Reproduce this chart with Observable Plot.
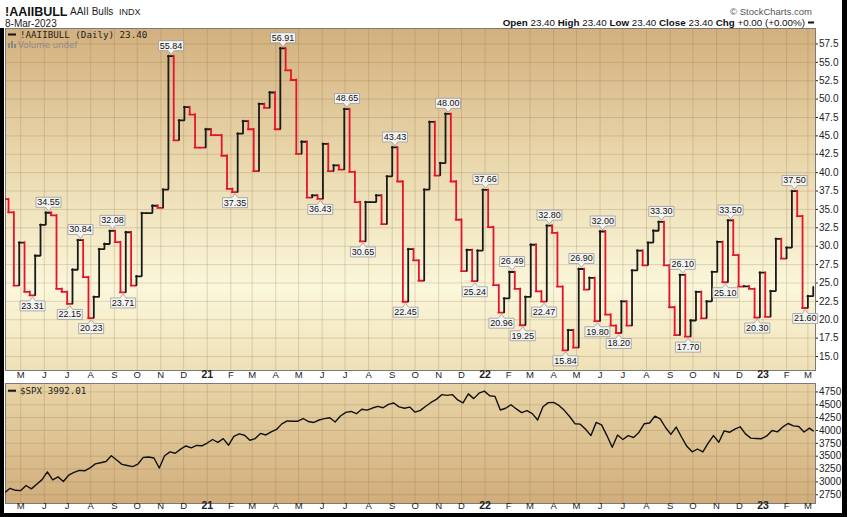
<!DOCTYPE html>
<html><head><meta charset="utf-8">
<script src="https://cdn.jsdelivr.net/npm/d3@7"></script>
<script src="https://cdn.jsdelivr.net/npm/@observablehq/plot@0.6"></script>
<style>
html,body{margin:0;padding:0;background:#fff;}
#root{position:relative;width:847px;height:517px;overflow:hidden;font-family:"Liberation Sans",Arial,sans-serif;}
.abs{position:absolute;}
#bgTop{left:5px;top:28px;width:810px;height:342px;background:linear-gradient(to bottom,#d3b07e 0%,#e9d7ab 38%,#fbf7db 76%,#efe0b5 100%);}
#bgBot{left:5px;top:383px;width:810px;height:120px;background:linear-gradient(to bottom,#e8d4a6 0%,#dcc090 55%,#d1ad7b 100%);}
#topChart,#botChart{left:0;}
#topChart{top:28px;} #botChart{top:383px;}
#overlay{left:0;top:0;pointer-events:none;}
</style></head>
<body><div id="root">
<div id="bgTop" class="abs"></div>
<div id="bgBot" class="abs"></div>
<div id="topChart" class="abs"></div>
<div id="botChart" class="abs"></div>
<svg id="overlay" class="abs" width="847" height="517" font-family="Liberation Sans, Arial, sans-serif">
  <text x="5" y="16" font-size="12.5" font-weight="bold" fill="#111">!AAIIBULL</text>
  <text x="70" y="15" font-size="10" fill="#222">AAII Bulls</text>
  <text x="119" y="14.7" font-size="9" fill="#222">INDX</text>
  <text x="5" y="26.7" font-size="10" fill="#222">8-Mar-2023</text>
  <text x="812" y="14.5" font-size="9.5" fill="#555" text-anchor="end">© StockCharts.com</text>
  <text x="805" y="26" font-size="9.8" fill="#111" text-anchor="end"><tspan font-weight="bold">Open</tspan> 23.40  <tspan font-weight="bold">High</tspan> 23.40  <tspan font-weight="bold">Low</tspan> 23.40  <tspan font-weight="bold">Close</tspan> 23.40  <tspan font-weight="bold">Chg</tspan> +0.00 (+0.00%)</text>
  <line x1="808" x2="814" y1="22.5" y2="22.5" stroke="#111" stroke-width="2"/>
  <line x1="8" x2="16" y1="34.5" y2="34.5" stroke="#111" stroke-width="2"/>
  <text x="20" y="38.3" font-size="9.2" font-family="DejaVu Sans Mono, monospace" fill="#222">!AAIIBULL (Daily) 23.40</text>
  <g fill="#8a8a8a"><rect x="8" y="43" width="2" height="5"/><rect x="11" y="41" width="2" height="7"/><rect x="14" y="44" width="2" height="4"/></g>
  <text x="18" y="48.3" font-size="8.6" font-family="DejaVu Sans, sans-serif" fill="#8a8a8a">Volume undef</text>
  <line x1="8" x2="16" y1="390.7" y2="390.7" stroke="#111" stroke-width="2"/>
  <text x="20" y="394.2" font-size="9.2" font-family="DejaVu Sans Mono, monospace" fill="#222">$SPX 3992.01</text>
  <rect x="0" y="28" width="4" height="489" fill="#000"/>
  <rect x="842" y="0" width="5" height="517" fill="#000"/>
  <rect x="0" y="513" width="847" height="4" fill="#000"/>
</svg>
</div>
<script>
// ---- AAII bullish % (weekly, starting Wednesday 2020-04-08) ----
const bullStart = "2020-04-08";
const bull2020 = [36.4, 34.6, 24.65, 30.5, 23.8, 23.31, 28.7, 32.9, 34.55, 34.2, 24.2, 23.8, 22.15, 26.8, 30.84, 25.8, 20.23, 23.1, 29.6, 30.3, 32.08, 30.55, 23.71, 31.9, 24.65, 25.9, 34.5, 34.5, 35.5, 35.2, 37.7, 55.84, 44.4, 47.1, 48.9, 47.9, 43.4, 43.4, 45.9];
const bull2021 = [45.1, 45.1, 42.3, 37.8, 37.35, 45.3, 47.0, 45.9, 40.2, 49.35, 48.8, 50.9, 45.9, 56.91, 53.9, 52.6, 42.55, 44.2, 36.6, 36.9, 36.43, 43.9, 40.2, 41.0, 40.4, 48.65, 40.1, 36.0, 30.65, 36.0, 36.0, 36.9, 33.0, 39.5, 43.43, 38.8, 22.45, 29.6, 28.06, 25.3, 37.7, 46.9, 39.6, 41.3, 48.0, 38.8, 33.6, 26.6, 29.5, 25.24, 29.4, 37.66];
const bull2022 = [32.6, 24.7, 20.96, 22.9, 26.49, 24.2, 19.25, 23.1, 30.2, 23.85, 22.47, 32.8, 31.8, 24.5, 15.84, 18.6, 16.2, 26.9, 24.1, 25.7, 19.8, 32.0, 20.7, 19.2, 18.2, 22.5, 19.2, 26.7, 29.4, 27.4, 30.5, 32.1, 33.3, 27.4, 21.7, 17.9, 26.1, 17.7, 19.9, 23.8, 20.2, 22.5, 26.5, 30.6, 25.1, 33.5, 28.8, 24.5, 24.55, 24.2, 20.3, 26.4];
const bull2023 = [20.4, 23.9, 31.0, 28.3, 29.8, 37.5, 34.1, 21.6, 23.2, 24.4];
const highLabels = [34.55, 30.84, 32.08, 55.84, 56.91, 48.65, 43.43, 48.00, 37.66, 26.49, 32.80, 26.90, 32.00, 33.30, 26.10, 33.50, 37.50];
const lowLabels = [23.31, 22.15, 20.23, 23.71, 37.35, 36.43, 30.65, 22.45, 25.24, 20.96, 19.25, 22.47, 15.84, 19.80, 18.20, 17.70, 25.10, 20.30, 21.60];

// ---- S&P 500 (weekly closes, starting Friday 2020-04-10) ----
const spxStart = "2020-04-10";
const spx2020 = [2790, 2875, 2837, 2831, 2930, 2864, 2955, 3044, 3194, 3041, 3098, 3009, 3130, 3185, 3225, 3216, 3271, 3351, 3373, 3397, 3508, 3427, 3341, 3319, 3298, 3348, 3477, 3484, 3465, 3270, 3509, 3585, 3558, 3638, 3699, 3663, 3709, 3703, 3756];
const spx2021 = [3825, 3768, 3841, 3714, 3887, 3934, 3907, 3811, 3842, 3943, 3913, 3975, 4020, 4129, 4185, 4180, 4181, 4233, 4174, 4156, 4204, 4230, 4247, 4166, 4281, 4352, 4370, 4327, 4412, 4395, 4437, 4468, 4442, 4509, 4535, 4459, 4433, 4455, 4357, 4391, 4471, 4545, 4605, 4697, 4683, 4698, 4595, 4538, 4712, 4620, 4726, 4766];
const spx2022 = [4677, 4663, 4398, 4432, 4501, 4419, 4349, 4385, 4329, 4204, 4463, 4543, 4546, 4488, 4392, 4272, 4132, 4123, 4024, 3901, 4158, 4109, 3901, 3675, 3912, 3825, 3899, 3863, 3962, 4130, 4145, 4280, 4228, 4058, 3924, 4067, 3873, 3693, 3586, 3640, 3583, 3753, 3901, 3771, 3993, 3965, 4026, 4072, 3934, 3852, 3845, 3840];
const spx2023 = [3895, 3999, 3973, 4070, 4136, 4090, 4079, 3970, 4046, 3992.01];

const lastDate = "2023-03-08";
const xStart = "2020-04-11", xEnd = "2023-03-11";
const firstMonthTick = "2020-05-01", lastMonthTick = "2023-03-01";
const monthLetters = ["J","F","M","A","M","J","J","A","S","O","N","D"];
const bullTicks = [15, 17.5, 20, 22.5, 25, 27.5, 30, 32.5, 35, 37.5, 40, 42.5, 45, 47.5, 50, 52.5, 55, 57.5];
const spxTicks = [2750, 3000, 3250, 3500, 3750, 4000, 4250, 4500, 4750];

(function () {
const DAY = 864e5;
const endDate = new Date(lastDate);
const weekly = (start, values) => values.map((v, i) => {
  let d = new Date(Date.parse(start) + i * 7 * DAY);
  if (d > endDate) d = endDate;
  return {date: d, value: v};
});
const bull = weekly(bullStart, [...bull2020, ...bull2021, ...bull2022, ...bull2023]);
const spx = weekly(spxStart, [...spx2020, ...spx2021, ...spx2022, ...spx2023]);

// step segments coloured by direction
const horiz = [], vert = [];
let lastDown = true;
for (let i = 0; i < bull.length; i++) {
  if (i > 0) {
    const p = bull[i - 1].value, c = bull[i].value;
    if (c !== p) { lastDown = c < p; vert.push({x: bull[i].date, y1: p, y2: c, down: lastDown}); }
  }
  if (i < bull.length - 1) horiz.push({x1: bull[i].date, x2: bull[i + 1].date, y: bull[i].value, down: lastDown});
}
const labelOf = (vals) => vals.map(v => {
  const p = bull.find(d => Math.abs(d.value - v) < 1e-9);
  return {date: new Date(+p.date + 3.5 * DAY), value: v};
});
const highs = labelOf(highLabels), lows = labelOf(lowLabels);

const calloutAbove = {draw(c) { c.moveTo(-12.5,-15.5); c.lineTo(12.5,-15.5); c.lineTo(12.5,-5.5); c.lineTo(3,-5.5); c.lineTo(0,-1.5); c.lineTo(-3,-5.5); c.lineTo(-12.5,-5.5); c.closePath(); }};
const calloutBelow = {draw(c) { c.moveTo(-12.5,15.5); c.lineTo(12.5,15.5); c.lineTo(12.5,5.5); c.lineTo(3,5.5); c.lineTo(0,1.5); c.lineTo(-3,5.5); c.lineTo(-12.5,5.5); c.closePath(); }};

const months = d3.utcMonth.range(new Date(firstMonthTick), new Date(Date.parse(lastMonthTick) + DAY));
const notJan = months.filter(d => d.getUTCMonth() !== 0), jan = months.filter(d => d.getUTCMonth() === 0);
const xDomain = [new Date(xStart), new Date(xEnd)];
const gridStyle = {stroke: "#8c6e46", strokeOpacity: 0.24, strokeWidth: 1};
const RED = "#e5132b", BLACK = "#1a1a1a";
const style = {background: "transparent", fontFamily: "Liberation Sans, Arial, sans-serif", fontSize: "10px", overflow: "visible", color: "#222"};
const monthMarks = (dy) => [
  Plot.text(notJan, {x: d => d, text: d => monthLetters[d.getUTCMonth()], frameAnchor: "bottom", dy, fontSize: 9.5, fill: "#222"}),
  Plot.text(jan, {x: d => d, text: d => d3.utcFormat("%y")(d), frameAnchor: "bottom", dy, fontSize: 10.5, fontWeight: "bold", fill: "#222"})
];
const lw = 1.8;

const upper = Plot.plot({
  width: 847, height: 355, marginLeft: 5, marginRight: 32, marginTop: 0, marginBottom: 13,
  style,
  x: {type: "utc", domain: xDomain, axis: null},
  y: {domain: [13.1, 59.6], axis: "right", ticks: bullTicks, tickFormat: d => d.toFixed(1), tickSize: 2, tickPadding: 1.5, label: null},
  marks: [
    Plot.ruleX(months, gridStyle),
    Plot.ruleY(bullTicks, gridStyle),
    Plot.frame({stroke: "#7a7a7a"}),
    Plot.ruleY(horiz.filter(d => !d.down), {x1: "x1", x2: "x2", y: "y", stroke: BLACK, strokeWidth: lw, strokeLinecap: "round", clip: true}),
    Plot.ruleY(horiz.filter(d => d.down), {x1: "x1", x2: "x2", y: "y", stroke: RED, strokeWidth: lw, strokeLinecap: "round", clip: true}),
    Plot.ruleX(vert.filter(d => !d.down), {x: "x", y1: "y1", y2: "y2", stroke: BLACK, strokeWidth: lw, strokeLinecap: "round", clip: true}),
    Plot.ruleX(vert.filter(d => d.down), {x: "x", y1: "y1", y2: "y2", stroke: RED, strokeWidth: lw, strokeLinecap: "round", clip: true}),
    Plot.dot(highs, {x: "date", y: "value", symbol: calloutAbove, r: 4, fill: "#f4f4f2", stroke: "#9a9a9a", strokeWidth: 0.8}),
    Plot.dot(lows, {x: "date", y: "value", symbol: calloutBelow, r: 4, fill: "#f4f4f2", stroke: "#9a9a9a", strokeWidth: 0.8}),
    Plot.text(highs, {x: "date", y: "value", text: d => d.value.toFixed(2), dy: -10.5, fontSize: 9, fill: "#111"}),
    Plot.text(lows, {x: "date", y: "value", text: d => d.value.toFixed(2), dy: 10.5, fontSize: 9, fill: "#111"}),
    ...monthMarks(7)
  ]
});
document.getElementById("topChart").appendChild(upper);

const lower = Plot.plot({
  width: 847, height: 131, marginLeft: 5, marginRight: 32, marginTop: 0, marginBottom: 11,
  style,
  x: {type: "utc", domain: xDomain, axis: null},
  y: {domain: [2580, 4914], axis: "right", ticks: spxTicks, tickFormat: d => String(d), tickSize: 2, tickPadding: 1.5, label: null},
  marks: [
    Plot.ruleX(months, gridStyle),
    Plot.ruleY(spxTicks, gridStyle),
    Plot.frame({stroke: "#7a7a7a"}),
    Plot.line(spx, {x: "date", y: "value", stroke: "#111", strokeWidth: 1.4, clip: true}),
    ...monthMarks(5.5)
  ]
});
document.getElementById("botChart").appendChild(lower);
})();
</script>
</body></html>
